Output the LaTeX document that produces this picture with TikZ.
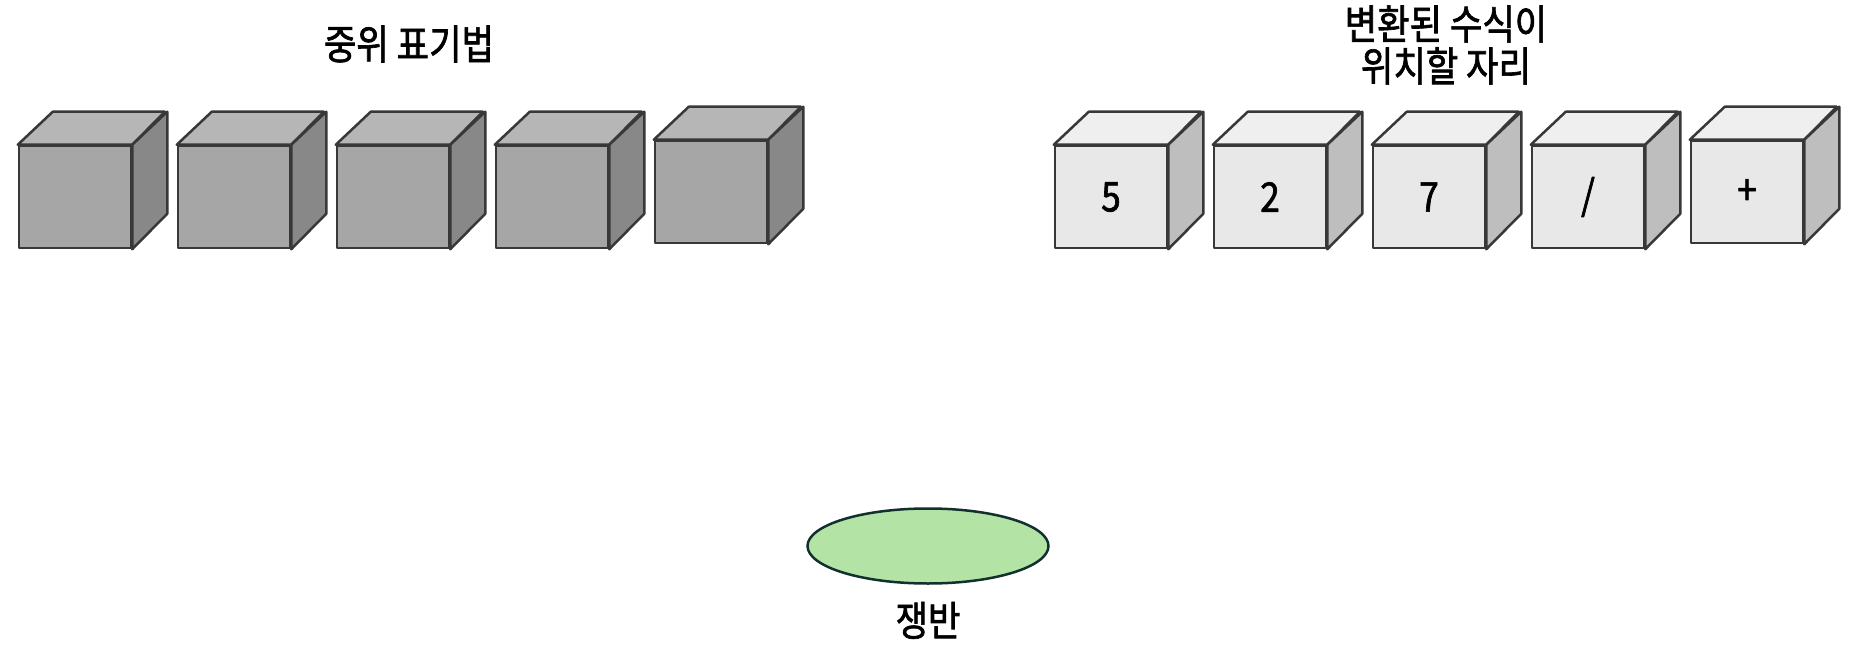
\documentclass[tikz,border=0pt]{standalone}
\usepackage{fontspec}
\newfontfamily\kr[FakeStretch=0.86]{Noto Sans CJK KR}
\newfontfamily\krb[FakeStretch=0.86,FakeBold=1.6]{Noto Sans CJK KR}
\usetikzlibrary{positioning,shapes.geometric}
\definecolor{edgegray}{HTML}{383838}
\definecolor{darkfront}{HTML}{A6A6A6}
\definecolor{darktop}{HTML}{B6B6B6}
\definecolor{darkside}{HTML}{888888}
\definecolor{lightfront}{HTML}{E8E8E8}
\definecolor{lighttop}{HTML}{EFEFEF}
\definecolor{lightside}{HTML}{BEBEBE}
\definecolor{trayfill}{HTML}{B3E4A6}
\definecolor{trayedge}{HTML}{12302E}

\begin{document}
\begin{tikzpicture}[x=1pt,y=-1pt,
  face/.style={draw=edgegray,line width=2.5pt,line join=round},
  front/.style={face,rectangle,minimum width=112pt,minimum height=102pt,inner sep=0pt,
    font=\krb\fontsize{41}{44}\selectfont},
  label/.style={inner sep=0pt,font=\krb\fontsize{41}{42}\selectfont}]
\useasboundingbox (0,0) rectangle (1871,668);

% titles
\node (infix) [label] at (409,44) {중위 표기법};
\node (result) [label,align=center] at (1446,45) {변환된 수식이\\위치할 자리};

% infix cubes
\foreach \n/\x/\y in {l1/75/197,l2/234/197,l3/393/197,l4/552/197,l5/711/192}{
  \node (\n) [front,fill=darkfront] at (\x,\y) {};
  \draw[face,fill=darktop] (\n.north west) -- ++(35,-33) -- ++(112,0) -- (\n.north east) -- cycle;
  \draw[face,fill=darkside] (\n.north east) -- ++(35,-33) -- ++(0,102) -- (\n.south east) -- cycle;
}

% result cubes
\foreach \n/\x/\y/\t in {r1/1111/197/5,r2/1270/197/2,r3/1429/197/7,r4/1588/197/{/},r5/1747/192/+}{
  \node (\n) [front,fill=lightfront] at (\x,\y) {\t};
  \draw[face,fill=lighttop] (\n.north west) -- ++(35,-33) -- ++(112,0) -- (\n.north east) -- cycle;
  \draw[face,fill=lightside] (\n.north east) -- ++(35,-33) -- ++(0,102) -- (\n.south east) -- cycle;
}

% tray
\node (tray) [ellipse,draw=trayedge,line width=2.5pt,fill=trayfill,minimum width=241pt,minimum height=75pt,inner sep=0pt] at (928,546) {};
\node (traylabel) [label,below=17pt of tray] {쟁반};
\end{tikzpicture}
\end{document}
